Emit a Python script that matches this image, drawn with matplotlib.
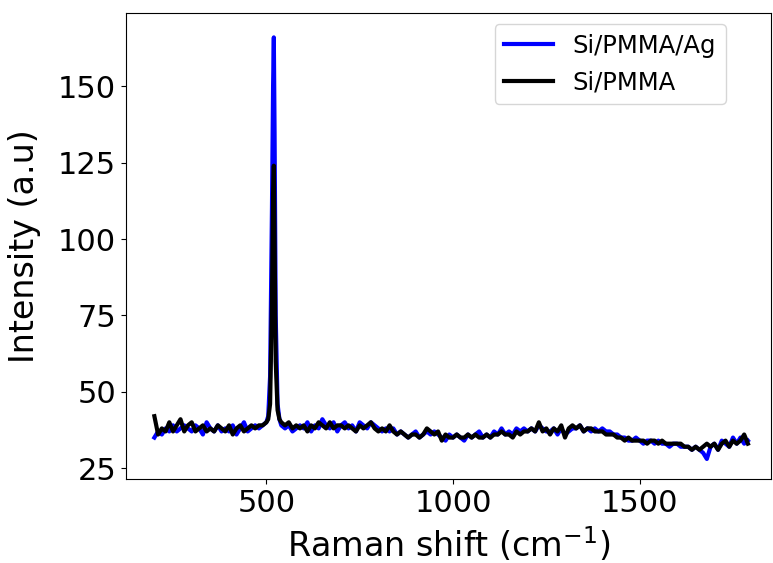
import matplotlib.pyplot as plt

# Raman shift (cm^-1)
shift = [200, 210, 220, 230, 240, 250, 260, 270, 280, 290,
         300, 310, 320, 330, 340, 350, 360, 370, 380, 390,
         400, 410, 420, 430, 440, 450, 460, 470, 480, 490,
         500, 505, 510, 515, 518, 520, 522, 525, 530, 535,
         540, 550, 560, 570, 580, 590, 600, 610, 620, 630,
         640, 650, 660, 670, 680, 690, 700, 710, 720, 730,
         740, 750, 760, 770, 780, 790, 800, 810, 820, 830,
         840, 850, 860, 870, 880, 890, 900, 910, 920, 930,
         940, 950, 960, 970, 980, 990, 1000, 1010, 1020, 1030,
         1040, 1050, 1060, 1070, 1080, 1090, 1100, 1110, 1120, 1130,
         1140, 1150, 1160, 1170, 1180, 1190, 1200, 1210, 1220, 1230,
         1240, 1250, 1260, 1270, 1280, 1290, 1300, 1310, 1320, 1330,
         1340, 1350, 1360, 1370, 1380, 1390, 1400, 1410, 1420, 1430,
         1440, 1450, 1460, 1470, 1480, 1490, 1500, 1510, 1520, 1530,
         1540, 1550, 1560, 1570, 1580, 1590, 1600, 1610, 1620, 1630,
         1640, 1650, 1660, 1670, 1680, 1690, 1700, 1710, 1720, 1730,
         1740, 1750, 1760, 1770, 1780, 1790]

# Si/PMMA/Ag (blue)
si_pmma_ag = [35, 37, 36, 38, 37, 39, 37, 38, 39, 38,
              37, 39, 38, 36, 40, 38, 37, 39, 37, 38,
              37, 39, 36, 38, 40, 37, 38, 39, 38, 39,
              40, 42, 55, 110, 150, 166, 135, 75, 46, 41,
              39, 38, 39, 37, 38, 39, 38, 40, 37, 39,
              38, 41, 39, 38, 40, 37, 39, 40, 38, 39,
              37, 40, 39, 38, 40, 39, 38, 37, 38, 37,
              38, 36, 37, 36, 35, 36, 37, 35, 36, 37,
              36, 37, 36, 35, 34, 36, 35, 36, 35, 34,
              36, 35, 36, 37, 35, 36, 35, 37, 36, 38,
              36, 37, 36, 38, 37, 38, 37, 38, 37, 39,
              38, 37, 37, 38, 36, 38, 36, 37, 38, 38,
              39, 37, 38, 37, 38, 37, 38, 37, 37, 36,
              36, 35, 35, 34, 34, 35, 34, 33, 34, 34,
              33, 34, 33, 33, 32, 33, 33, 32, 32, 32,
              31, 32, 31, 30, 28, 32, 33, 31, 34, 33,
              32, 35, 33, 35, 33, 34]

# Si/PMMA (black)
si_pmma = [42, 36, 38, 37, 40, 37, 39, 41, 37, 39,
           40, 37, 38, 39, 37, 38, 37, 39, 38, 37,
           39, 36, 38, 39, 37, 38, 39, 38, 39, 39,
           40, 41, 46, 80, 115, 124, 100, 60, 44, 41,
           40, 39, 40, 38, 39, 38, 39, 37, 39, 38,
           40, 39, 38, 40, 38, 39, 39, 38, 39, 38,
           37, 39, 38, 39, 40, 38, 37, 38, 37, 39,
           37, 36, 37, 36, 35, 36, 36, 35, 36, 38,
           37, 36, 37, 34, 36, 35, 35, 36, 35, 35,
           36, 35, 36, 35, 35, 36, 35, 36, 36, 37,
           36, 36, 35, 37, 36, 37, 37, 38, 37, 40,
           37, 38, 36, 38, 37, 39, 35, 38, 39, 38,
           39, 37, 38, 38, 37, 37, 37, 36, 36, 36,
           35, 35, 34, 35, 34, 34, 34, 34, 33, 34,
           34, 33, 34, 33, 33, 33, 33, 33, 32, 32,
           31, 32, 31, 32, 33, 32, 33, 31, 33, 34,
           32, 34, 33, 34, 36, 33]

fig = plt.figure(figsize=(7.73, 5.63), dpi=100)
ax = fig.add_axes([0.163, 0.149, 0.834, 0.828])

ax.plot(shift, si_pmma_ag, color='blue', lw=3, label='Si/PMMA/Ag')
ax.plot(shift, si_pmma, color='black', lw=3, label='Si/PMMA')

ax.set_xlim(124, 1851)
ax.set_ylim(21.4, 174)
ax.set_xticks([500, 1000, 1500])
ax.set_yticks([25, 50, 75, 100, 125, 150])
ax.tick_params(labelsize=22)

ax.set_xlabel('Raman shift (cm$^{-1}$)', fontsize=24, labelpad=5)
ax.set_ylabel('Intensity (a.u)', fontsize=24, labelpad=12)
ax.legend(loc='upper right', fontsize=17.5, bbox_to_anchor=(0.930, 0.976),
          borderaxespad=0)

fig.savefig('out.png', dpi=100)
